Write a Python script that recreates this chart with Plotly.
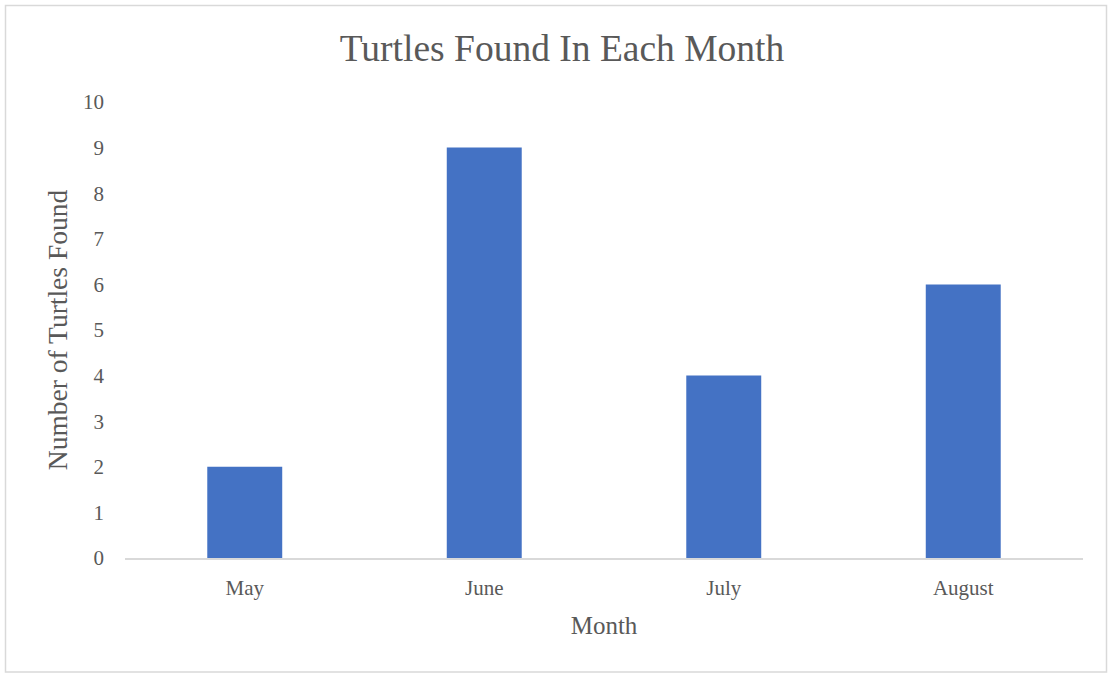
import plotly.graph_objects as go

months = ["May", "June", "July", "August"]
turtles = [2, 9, 4, 6]
y_ticks = list(range(0, 11))

W, H = 1108, 677
L, R, T, B = 125, 25, 102, 119
plot_w = W - L - R
plot_h = H - T - B

TEXT = "#595959"
FONT = "Liberation Serif"

fig = go.Figure(
    go.Bar(
        x=months,
        y=turtles,
        marker=dict(color="#4472C4", line=dict(width=0)),
        hoverinfo="x+y",
    )
)


def px_x(px):
    return (px - L) / plot_w


def px_y(py):
    return (H - B - py) / plot_h


fig.update_layout(
    width=W,
    height=H,
    margin=dict(l=L, r=R, t=T, b=B),
    paper_bgcolor="white",
    plot_bgcolor="white",
    bargap=0.687,
    showlegend=False,
    font=dict(family=FONT, color=TEXT),
    title=dict(
        text="Turtles Found In Each Month",
        xref="container",
        x=562 / W,
        xanchor="center",
        y=1 - 48 / H,
        yanchor="middle",
        font=dict(family=FONT, size=37.5, color=TEXT),
    ),
    xaxis=dict(
        showgrid=False,
        showline=True,
        linecolor="#D9D9D9",
        linewidth=1.5,
        ticks="",
        tickfont=dict(family=FONT, size=21, color=TEXT),
        ticklabelstandoff=10,
        title=dict(text="Month", font=dict(family=FONT, size=25, color=TEXT), standoff=18),
        fixedrange=True,
    ),
    yaxis=dict(
        range=[0, 10],
        tickvals=y_ticks,
        showgrid=False,
        showline=False,
        zeroline=False,
        ticks="",
        tickfont=dict(family=FONT, size=21, color=TEXT),
        ticklabelstandoff=20,
        title=dict(text="Number of Turtles Found", font=dict(family=FONT, size=27.5, color=TEXT), standoff=7),
        fixedrange=True,
    ),
    shapes=[
        dict(
            type="rect",
            xref="paper",
            yref="paper",
            x0=px_x(5.5),
            x1=px_x(1106.5),
            y0=px_y(672),
            y1=px_y(5.5),
            line=dict(color="#D9D9D9", width=1.5),
            fillcolor="rgba(0,0,0,0)",
            layer="below",
        )
    ],
)

fig.write_html("out.html")
